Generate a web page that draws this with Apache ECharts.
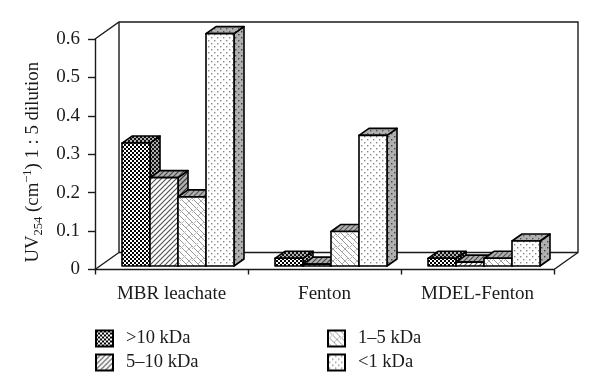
<!DOCTYPE html>
<html><head><meta charset="utf-8">
<style>html,body{margin:0;padding:0;background:#fff}#c{width:600px;height:392px}</style>
<script src="https://cdn.jsdelivr.net/npm/echarts@6/dist/echarts.min.js"></script>
</head><body><div id="c"></div>
<script>
const categories = ['MBR leachate', 'Fenton', 'MDEL-Fenton'];
const seriesNames = ['>10 kDa', '5–10 kDa', '1–5 kDa', '<1 kDa'];
const over10 = [0.32, 0.02, 0.02];
const from5to10 = [0.23, 0.005, 0.01];
const from1to5 = [0.18, 0.09, 0.02];
const under1 = [0.605, 0.34, 0.065];
const seriesValues = [over10, from5to10, from1to5, under1];
const yTicks = [0, 0.1, 0.2, 0.3, 0.4, 0.5, 0.6];

const FONT = '"Liberation Serif", serif';
const INK = '#1a1a1a';

function tile(size, base, draw) {
  const c = document.createElement('canvas');
  c.width = c.height = size;
  const g = c.getContext('2d');
  g.fillStyle = base; g.fillRect(0, 0, size, size);
  draw(g, size);
  return { image: c, repeat: 'repeat' };
}
function checker(base, ink) {
  return tile(4, base, (g) => { g.fillStyle = ink; g.fillRect(0, 0, 2, 2); g.fillRect(2, 2, 2, 2); });
}
function slash(base, ink) {
  return tile(5, base, (g, n) => {
    g.strokeStyle = ink; g.lineWidth = 1.2;
    [[0, n, n, 0], [-n, n, n, -n], [0, 2 * n, 2 * n, 0]].forEach(l => {
      g.beginPath(); g.moveTo(l[0], l[1]); g.lineTo(l[2], l[3]); g.stroke();
    });
  });
}
function lattice(base, ink) {
  return tile(12, base, (g, n) => {
    g.strokeStyle = ink; g.lineWidth = 1;
    [[-n, 0, n, 2 * n], [-n / 2, 0, n + n / 2, 2 * n], [0, 0, n, n], [n / 2, 0, n, n / 2], [0, n / 2, n / 2, n], [-n / 2, -n, n, n / 2]].forEach(l => {
      g.beginPath(); g.moveTo(l[0], l[1]); g.lineTo(l[2], l[3]); g.stroke();
    });
    g.strokeStyle = '#bbb';
    g.beginPath(); g.moveTo(0, 9); g.lineTo(6, 3); g.stroke();
    g.beginPath(); g.moveTo(6, 12); g.lineTo(12, 6); g.stroke();
  });
}
function dots(base, ink) {
  return tile(6, base, (g) => { g.fillStyle = ink; g.fillRect(1, 1, 1.4, 1.4); g.fillRect(4, 4, 1.4, 1.4); });
}
const GREY = '#b0b0b0';
const faces = [checker('#fff', '#000'), slash('#fff', '#555'), lattice('#fff', '#999'), dots('#fff', '#888')];
const sides = [checker(GREY, '#111'), slash(GREY, '#333'), slash(GREY, '#333'), dots(GREY, '#444')];
const tops = [checker(GREY, '#111'), slash(GREY, '#444'), slash(GREY, '#555'), dots(GREY, '#555')];

function barRenderer(s) {
  return function (params, api) {
    const c = api.value(0), v = api.value(1);
    const band = api.size([1, 0])[0];
    const w = band * 0.183, dx = 10, dy = 7;
    const bottom = api.coord([c, 0]);
    const top = api.coord([c, v]);
    const x0 = bottom[0] + band * (0.0425 + (s - 2) * 0.183);
    const shiftY = -3.5;
    const y0 = bottom[1] + shiftY, y1 = top[1] + shiftY;
    const x1 = x0 + w;
    const line = { stroke: '#000', lineWidth: 1.6, lineJoin: 'round' };
    return {
      type: 'group',
      children: [
        { type: 'polygon', shape: { points: [[x1, y1], [x1 + dx, y1 - dy], [x1 + dx, y0 - dy], [x1, y0]] }, style: Object.assign({ fill: sides[s] }, line) },
        { type: 'polygon', shape: { points: [[x0, y1], [x0 + dx, y1 - dy], [x1 + dx, y1 - dy], [x1, y1]] }, style: Object.assign({ fill: tops[s] }, line) },
        { type: 'rect', shape: { x: x0, y: y1, width: w, height: y0 - y1 }, style: Object.assign({ fill: faces[s] }, line) }
      ]
    };
  };
}

function wallRenderer(params) {
  const b = params.coordSys;
  const dx = 24, dy = -17;
  const l = b.x, r = b.x + b.width, t = b.y, f = b.y + b.height;
  const st = { fill: 'none', stroke: INK, lineWidth: 1.4 };
  return {
    type: 'group',
    children: [
      { type: 'polyline', shape: { points: [[l, t], [l + dx, t + dy], [r + dx, t + dy], [r + dx, f + dy], [r, f]] }, style: st },
      { type: 'polyline', shape: { points: [[l + dx, t + dy], [l + dx, f + dy], [l, f]] }, style: st },
      { type: 'polyline', shape: { points: [[l + dx, f + dy], [r + dx, f + dy]] }, style: st }
    ]
  };
}

const series = [{
  type: 'custom', name: 'walls', silent: true, renderItem: wallRenderer, data: [[0, 0]], z: 1
}].concat(seriesNames.map((name, s) => ({
  type: 'custom',
  name: name,
  renderItem: barRenderer(s),
  data: seriesValues[s].map((v, i) => [i, v]),
  itemStyle: { color: faces[s], borderColor: '#000', borderWidth: 1.5 },
  z: 2 + s
})));

const legendText = { fontFamily: FONT, fontSize: 18.5, color: INK, padding: [0, 0, 0, 8] };
const chart = echarts.init(document.getElementById('c'));
chart.setOption({
  animation: false,
  backgroundColor: '#fff',
  grid: { left: 95, right: 46, top: 39, bottom: 122.5, containLabel: false },
  xAxis: {
    type: 'category',
    data: categories,
    axisLine: { lineStyle: { color: INK, width: 1.4 } },
    axisTick: { show: true, length: 5, lineStyle: { color: INK, width: 1.4 } },
    axisLabel: { fontFamily: FONT, fontSize: 19, color: INK, margin: 15 }
  },
  yAxis: {
    type: 'value', min: 0, max: 0.6, interval: 0.1,
    splitLine: { show: false },
    axisLine: { show: true, lineStyle: { color: INK, width: 1.4 } },
    axisTick: { show: true, length: 7, lineStyle: { color: INK, width: 1.4 } },
    axisLabel: {
      fontFamily: FONT, fontSize: 19, color: INK, margin: 15,
      formatter: (v) => yTicks.includes(v) ? (v === 0 ? '0' : v.toFixed(1)) : ''
    },
    name: '{n|UV}{sub|254}{n| (cm}{sup|−1}{n|) 1 : 5 dilution}',
    nameLocation: 'middle', nameRotate: 90, nameGap: 46,
    nameTextStyle: {
      padding: [0, 16, 0, 0],
      rich: {
        n: { fontFamily: FONT, fontSize: 18.8, color: INK, lineHeight: 24 },
        sub: { fontFamily: FONT, fontSize: 12.5, color: INK, lineHeight: 24, verticalAlign: 'bottom' },
        sup: { fontFamily: FONT, fontSize: 12.5, color: INK, lineHeight: 24, verticalAlign: 'top' }
      }
    }
  },
  legend: [
    { left: 90, top: 324, orient: 'vertical', icon: 'rect', itemWidth: 17, itemHeight: 16, itemGap: 5, selectedMode: false, data: seriesNames.slice(0, 2), textStyle: legendText },
    { left: 322, top: 324, orient: 'vertical', icon: 'rect', itemWidth: 17, itemHeight: 16, itemGap: 5, selectedMode: false, data: seriesNames.slice(2), textStyle: legendText }
  ],
  series: series
});
</script></body></html>
